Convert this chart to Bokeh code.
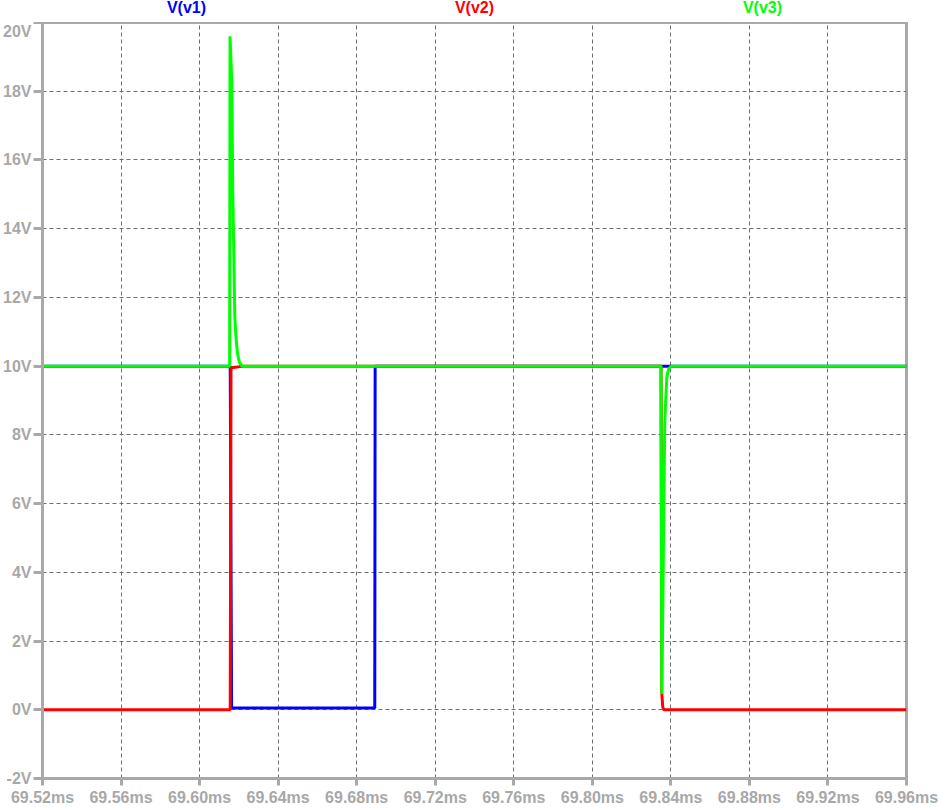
from bokeh.plotting import figure
from bokeh.layouts import column
from bokeh.models import FixedTicker, CustomJSTickFormatter, Range1d, ColumnDataSource
from bokeh.core.properties import value
from bokeh.embed import file_html
from bokeh.resources import INLINE

# ---- data (time in ms, voltage in V) ----
x_ticks = [69.52, 69.56, 69.60, 69.64, 69.68, 69.72, 69.76, 69.80, 69.84, 69.88, 69.92, 69.96]
y_ticks = [-2, 0, 2, 4, 6, 8, 10, 12, 14, 16, 18, 20]

t_v1 = [69.52, 69.6156, 69.6163, 69.6892, 69.6894, 69.96]
v_v1 = [10, 10, 0.05, 0.05, 10, 10]

t_v2 = [69.52, 69.6156, 69.6160, 69.6166, 69.6220, 69.8350, 69.83536, 69.83587, 69.8365, 69.96]
v_v2 = [0, 0, 9.93, 9.95, 10, 10, 0.5, 0.08, 0, 0]

t_v3 = [69.52, 69.6153, 69.6155, 69.6164, 69.6169, 69.6174, 69.6179, 69.6184, 69.6189,
        69.6194, 69.6199, 69.6204, 69.6211, 69.6221, 69.8350, 69.83536, 69.83587,
        69.83638, 69.83689, 69.83739, 69.83790, 69.83841, 69.83892, 69.8401, 69.96]
v_v3 = [10, 10, 19.6, 18.3, 15.0, 13.4, 11.5, 10.95, 10.6, 10.35, 10.2, 10.1, 10.03, 10.0,
        10, 0.46, 2.74, 5.70, 8.36, 9.04, 9.63, 9.82, 9.92, 10.0, 10]

series_names = ["V(v1)", "V(v2)", "V(v3)"]
series_colors = ["#0000FF", "#FF0000", "#00FF00"]

x_min, x_max = 69.52, 69.96
y_min, y_max = -2, 20

AX = "#A9A9A9"
FONT = "Liberation Sans"
LW = 3

xr = Range1d(x_min, x_max)

# ---- header strip with trace names ----
head = figure(width=940, height=22, output_backend="svg", toolbar_location=None,
              x_range=xr, y_range=Range1d(0, 1),
              x_axis_location=None, y_axis_location=None,
              min_border_left=40, min_border_right=34, min_border_top=0, min_border_bottom=0)
head.outline_line_color = None
head.xgrid.visible = False
head.ygrid.visible = False
head.background_fill_color = "white"
head.border_fill_color = "white"
name_x = [x_min + (x_max - x_min) * (i + 0.5) / 3 for i in range(3)]
src = ColumnDataSource(dict(x=name_x, y=[0.3] * 3, text=series_names, color=series_colors))
head.text(x="x", y="y", text="text", text_color="color", source=src,
          text_font=value(FONT), text_font_style="bold", text_font_size="16px",
          text_align="center", text_baseline="bottom")

# ---- main plot ----
p = figure(width=940, height=786, output_backend="svg", toolbar_location=None,
           x_range=xr, y_range=Range1d(y_min, y_max),
           min_border_left=40, min_border_right=34, min_border_top=0, min_border_bottom=30)
p.background_fill_color = "white"
p.border_fill_color = "white"
p.outline_line_color = AX
p.outline_line_width = 3

for ax in (p.xaxis[0], p.yaxis[0]):
    ax.axis_line_color = AX
    ax.axis_line_width = 3
    ax.major_tick_line_color = AX
    ax.major_tick_line_width = 3
    ax.minor_tick_line_color = None
    ax.major_tick_in = 0
    ax.major_label_text_font = FONT
    ax.major_label_text_font_style = "bold"
    ax.major_label_text_font_size = "16px"
    ax.major_label_text_color = "#A8A8A8"

p.xaxis[0].ticker = FixedTicker(ticks=x_ticks)
p.xaxis[0].formatter = CustomJSTickFormatter(code="return tick.toFixed(2) + 'ms';")
p.xaxis[0].major_tick_out = 7
p.xaxis[0].major_label_standoff = 3

p.yaxis[0].ticker = FixedTicker(ticks=y_ticks)
p.yaxis[0].formatter = CustomJSTickFormatter(code="return tick.toFixed(0) + 'V';")
p.yaxis[0].major_tick_out = 9
p.yaxis[0].major_label_standoff = 2

p.xgrid[0].ticker = FixedTicker(ticks=x_ticks)
p.ygrid[0].ticker = FixedTicker(ticks=y_ticks)
for g in (p.xgrid[0], p.ygrid[0]):
    g.grid_line_color = "#6E6E6E"
    g.grid_line_width = 1
    g.grid_line_dash = "4 3"

p.line(t_v1, v_v1, line_color=series_colors[0], line_width=LW)
p.line(t_v2, v_v2, line_color=series_colors[1], line_width=LW)
p.line(t_v3, v_v3, line_color=series_colors[2], line_width=LW)

layout = column(head, p, spacing=0)
open("out.html", "w").write(file_html(layout, INLINE))
